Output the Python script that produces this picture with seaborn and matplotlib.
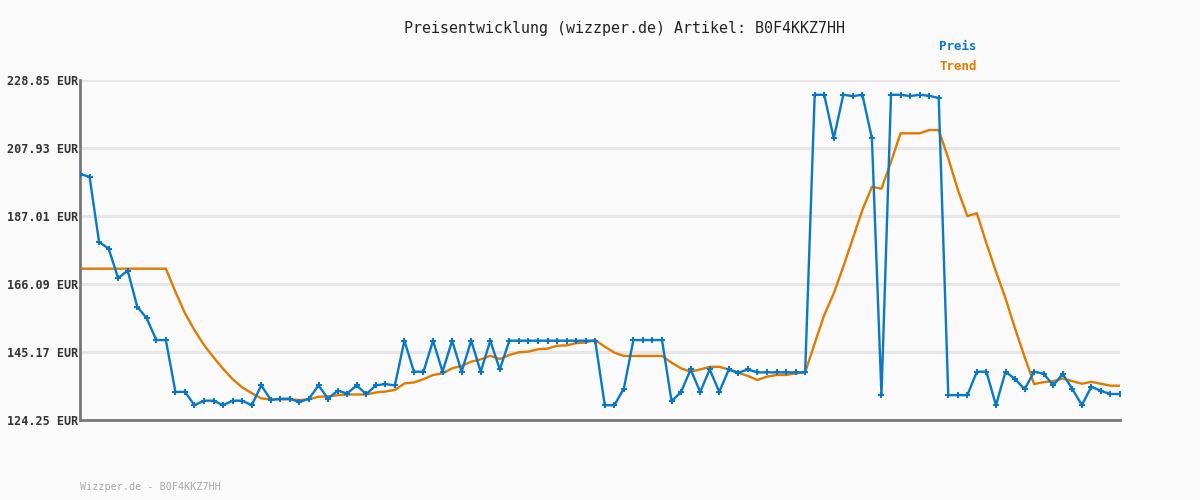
import numpy as np
import pandas as pd
import matplotlib
matplotlib.use("Agg")
import matplotlib.pyplot as plt
import seaborn as sns

price = [199.9, 199.1, 179.0, 177.0, 167.9, 170.2, 159.1, 155.5, 148.85, 148.85,
         132.9, 132.9, 128.8, 130.2, 130.2, 128.8, 130.2, 130.2, 128.8, 134.9,
         130.4, 130.8, 130.8, 129.8, 130.8, 134.9, 130.8, 133.3, 132.4, 134.9,
         132.2, 134.9, 135.3, 134.9, 148.65, 139.1, 139.1, 148.65, 139.1, 148.65,
         139.1, 148.65, 139.1, 148.65, 139.8, 148.65, 148.65, 148.65, 148.65, 148.65,
         148.65, 148.65, 148.65, 148.65, 148.65, 128.8, 128.8, 133.9, 148.85, 148.85,
         148.85, 148.85, 130.0, 132.9, 139.8, 132.9, 139.8, 132.9, 139.8, 138.8,
         139.8, 138.9, 138.9, 138.9, 138.9, 138.9, 138.9, 224.3, 224.3, 210.9,
         224.3, 223.9, 224.3, 210.9, 131.85, 224.3, 224.3, 223.9, 224.3, 224.0,
         223.3, 131.9, 131.9, 131.9, 139.1, 139.1, 128.8, 139.1, 136.85, 133.7,
         139.1, 138.5, 134.9, 138.4, 133.8, 128.85, 134.5, 133.2, 132.25, 132.25]

trend = [170.8, 170.8, 170.8, 170.8, 170.8, 170.8, 170.8, 170.8, 170.8, 170.8,
         163.7, 157.1, 151.9, 147.3, 143.5, 140.0, 136.8, 134.3, 132.5, 130.9,
         130.6, 130.6, 130.6, 130.4, 130.6, 131.4, 131.5, 131.9, 132.1, 132.1,
         132.1, 132.7, 133.0, 133.5, 135.5, 135.8, 136.8, 138.1, 138.6, 140.15,
         140.9, 142.2, 142.9, 144.0, 143.0, 144.25, 145.1, 145.3, 146.0, 146.2,
         147.1, 147.2, 147.9, 148.1, 148.85, 146.8, 145.0, 143.95, 143.95, 143.95,
         143.95, 143.95, 141.9, 140.15, 139.1, 139.8, 140.6, 140.6, 139.8, 138.8,
         137.8, 136.55, 137.6, 138.1, 138.1, 138.6, 138.9, 147.8, 156.55, 163.2,
         171.4, 180.1, 188.85, 196.0, 195.4, 203.7, 212.45, 212.45, 212.45, 213.45,
         213.45, 204.8, 195.1, 187.0, 187.85, 178.6, 169.9, 161.7, 152.4, 143.7,
         135.3, 135.9, 136.2, 137.0, 136.2, 135.4, 136.0, 135.4, 134.8, 134.8]

y_ticks = [124.25, 145.17, 166.09, 187.01, 207.93, 228.85]
title = "Preisentwicklung (wizzper.de) Artikel: B0F4KKZ7HH"
footer = "Wizzper.de - B0F4KKZ7HH"

BLUE = "#0a78c8"
ORANGE = "#e07b00"
BG = "#fafafa"

sns.set_theme(style="white")
plt.rcParams['font.family'] = ['DejaVu Sans Mono', 'DejaVu Sans']

df = pd.DataFrame({"idx": np.arange(len(price)), "Preis": price, "Trend": trend})

fig = plt.figure(figsize=(12, 5), dpi=100, facecolor=BG)
ax = fig.add_axes([80/1200, 1-420/500, 1040/1200, 340/500])
ax.set_facecolor(BG)

for yt in y_ticks:
    ax.axhline(yt, color="#e6e6e6", lw=2.2, zorder=0)

sns.lineplot(data=df, x="idx", y="Trend", ax=ax, color=ORANGE, lw=1.7, zorder=2)
sns.lineplot(data=df, x="idx", y="Preis", ax=ax, color=BLUE, lw=1.7, zorder=3,
             marker="P", markersize=4.5, markeredgewidth=0, markerfacecolor=BLUE)

ax.set_xlim(0, len(price) - 1)
ax.set_ylim(y_ticks[0], y_ticks[-1])
ax.set_yticks(y_ticks)
ax.set_yticklabels([f"{v:.2f} EUR" for v in y_ticks], fontsize=8.5,
                   fontweight="bold", color="#333333")
ax.tick_params(axis="y", length=0, pad=1)
ax.set_xticks([])
ax.set_xlabel("")
ax.set_ylabel("")
for s in ["top", "right"]:
    ax.spines[s].set_visible(False)
for s in ["left", "bottom"]:
    ax.spines[s].set_color("#777777")
    ax.spines[s].set_linewidth(2)

fig.text(624/1200, 1-28/500, title, ha="center", va="center", fontsize=10.8,
         color="#222222")
fig.text(939/1200, 1-47/500, "Preis", ha="left", va="center", fontsize=9,
         fontweight="bold", color=BLUE)
fig.text(939/1200, 1-67/500, "Trend", ha="left", va="center", fontsize=9,
         fontweight="bold", color=ORANGE)
fig.text(80/1200, 1-487/500, footer, ha="left", va="center", fontsize=7.3,
         color="#aaaaaa")

fig.savefig("out.png", dpi=100, facecolor=BG)
